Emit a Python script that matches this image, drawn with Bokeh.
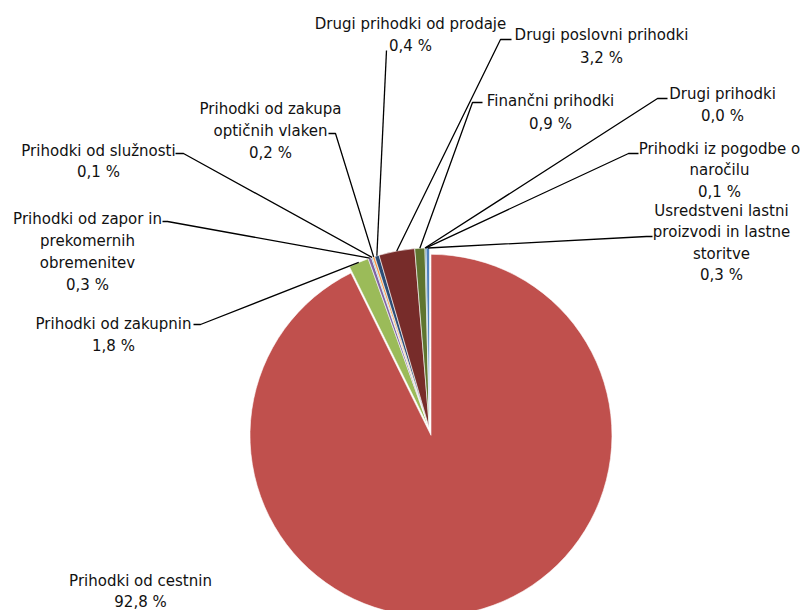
import math
from bokeh.plotting import figure
from bokeh.models import Range1d, ColumnDataSource
from bokeh.core.properties import value
from bokeh.embed import file_html
from bokeh.resources import INLINE

# ---------------- data ----------------
categories = [
    "Prihodki od cestnin",
    "Prihodki od zakupnin",
    "Prihodki od zapor in prekomernih obremenitev",
    "Prihodki od služnosti",
    "Prihodki od zakupa optičnih vlaken",
    "Drugi prihodki od prodaje",
    "Drugi poslovni prihodki",
    "Finančni prihodki",
    "Drugi prihodki",
    "Prihodki iz pogodbe o naročilu",
    "Usredstveni lastni proizvodi in lastne storitve",
]
shares = [92.8, 1.8, 0.3, 0.1, 0.2, 0.4, 3.2, 0.9, 0.0, 0.1, 0.3]
colors = ["#C0504D", "#9BBB59", "#8064A2", "#4BACC6", "#F79646", "#2C4D75",
          "#772C2A", "#5F7530", "#4D3B62", "#276A7C", "#4F81BD"]

# ---------------- layout (screen pixel coordinates) ----------------
label_lines = [
    ["Prihodki od cestnin"],
    ["Prihodki od zakupnin"],
    ["Prihodki od zapor in", "prekomernih", "obremenitev"],
    ["Prihodki od služnosti"],
    ["Prihodki od zakupa", "optičnih vlaken"],
    ["Drugi prihodki od prodaje"],
    ["Drugi poslovni prihodki"],
    ["Finančni prihodki"],
    ["Drugi prihodki"],
    ["Prihodki iz pogodbe o", "naročilu"],
    ["Usredstveni lastni", "proizvodi in lastne", "storitve"],
]
label_cx = [140, 113, 87, 98, 270, 410, 601, 550, 722, 719, 721]
label_top = [580, 323, 218, 150, 108, 23, 34, 100, 93, 148, 210]
line_step = [21, 22, 22, 21, 22, 22, 23, 23, 22, 21.5, 21.5]
# leader elbow and end point (None = no leader)
leader_pts = [
    None,
    [(200, 324), (193, 324)],
    [(167, 221), (162, 221)],
    [(183, 153), (175, 153)],
    [(335, 133), (328, 133)],
    [(386, 50), (386, 50)],
    [(500, 39), (511, 39)],
    [(472, 102), (482, 102)],
    [(657, 98), (667, 98)],
    [(628, 153), (638, 153)],
    [(646, 236), (652, 236)],
]

PIE_CX, PIE_CY, PIE_R = 429.0, 428.5, 181.0
EXPLODE = [6.5] + [0] * 10

W, H = 803, 610


def Y(ys):
    return H - ys


p = figure(width=W, height=H, output_backend="svg", toolbar_location=None,
           x_range=Range1d(0, W), y_range=Range1d(0, H),
           min_border=0, outline_line_color=None)
p.axis.visible = False
p.grid.visible = False
p.background_fill_color = "white"

total = sum(shares)
cum = 0.0
xs, ys, starts, ends, cols, cats = [], [], [], [], [], []
mids = []
for i, v in enumerate(shares):
    c0 = cum / total
    c1 = (cum + v) / total
    cum += v
    a0 = math.pi / 2 - 2 * math.pi * c1
    a1 = math.pi / 2 - 2 * math.pi * c0
    am = (a0 + a1) / 2
    cx = PIE_CX + EXPLODE[i] * math.cos(am)
    cy = Y(PIE_CY) + EXPLODE[i] * math.sin(am)
    mids.append((cx + PIE_R * math.cos(am), cy + PIE_R * math.sin(am)))
    if v <= 0:
        continue
    xs.append(cx)
    ys.append(cy)
    starts.append(a0)
    ends.append(a1)
    cols.append(colors[i])
    cats.append(categories[i])

src = ColumnDataSource(dict(x=xs, y=ys, start=starts, end=ends, color=cols,
                            cat=cats))
p.wedge(x="x", y="y", radius=PIE_R, start_angle="start", end_angle="end",
        fill_color="color", line_color="white", line_width=0.6, source=src)

# leader lines
for i, pts in enumerate(leader_pts):
    if pts is None:
        continue
    mx, my = mids[i]
    lx = [mx] + [pt[0] for pt in pts]
    ly = [my] + [Y(pt[1]) for pt in pts]
    p.line(lx, ly, line_color="black", line_width=1.3)

# labels
tx, ty, tt = [], [], []
for i, lines in enumerate(label_lines):
    pct = f"{shares[i]:.1f}".replace(".", ",") + " %"
    for k, t in enumerate(lines + [pct]):
        tx.append(label_cx[i])
        ty.append(Y(label_top[i] + k * line_step[i]))
        tt.append(t)

p.text(x=tx, y=ty, text=tt, text_align="center", text_baseline="middle",
       text_font=value("DejaVu Sans"), text_font_size="15px",
       text_color="#111111")

open("out.html", "w").write(file_html(p, INLINE))
